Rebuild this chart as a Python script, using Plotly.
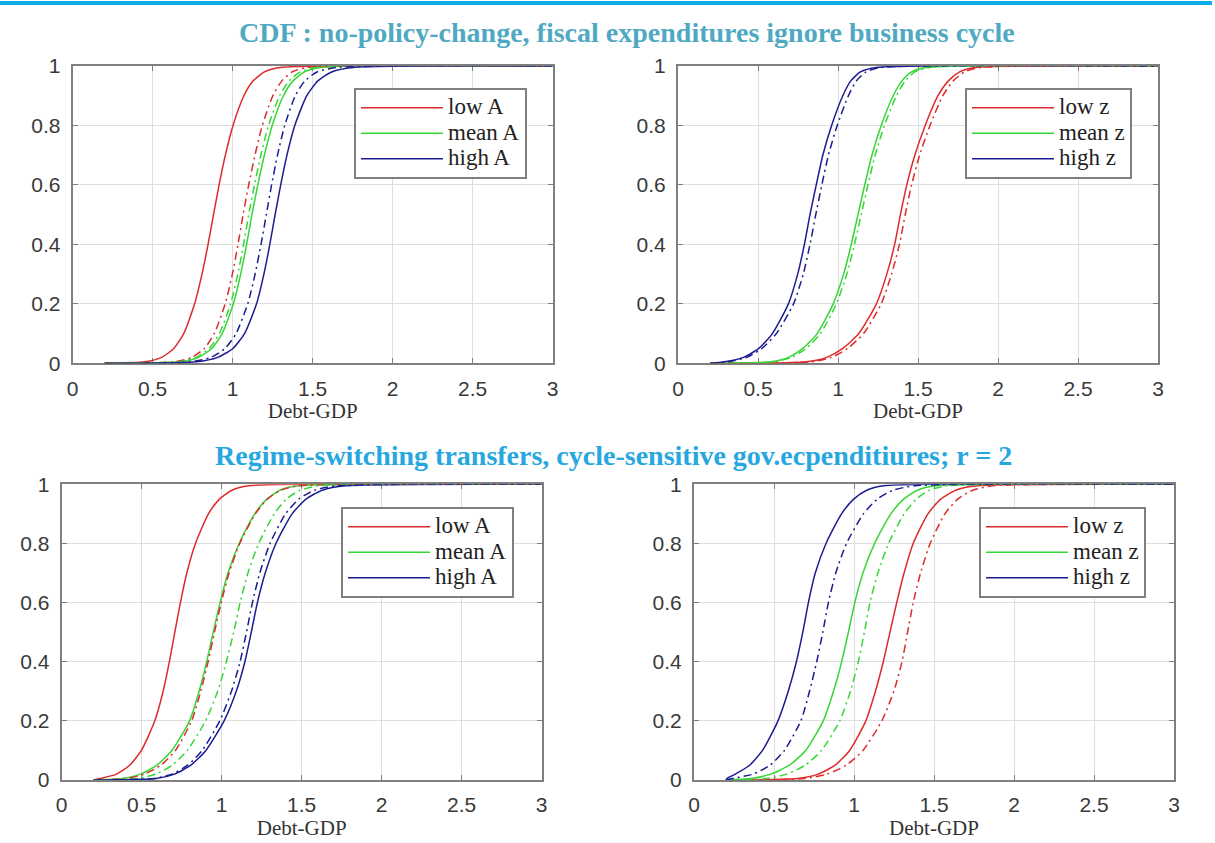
import plotly.graph_objects as go

W, H = 1215, 843

# ---------------- data ----------------
X_START = 0.2
X_END = 3.0
Y_LEVELS = [0.005, 0.02, 0.05, 0.1, 0.2, 0.3, 0.4, 0.5, 0.6, 0.7, 0.8, 0.9, 0.95, 0.98, 0.995]

X_TICKS = [0, 0.5, 1, 1.5, 2, 2.5, 3]
X_TICK_LABELS = ["0", "0.5", "1", "1.5", "2", "2.5", "3"]
Y_TICKS = [0, 0.2, 0.4, 0.6, 0.8, 1]
Y_TICK_LABELS = ["0", "0.2", "0.4", "0.6", "0.8", "1"]

LEGEND_A = ["low A", "mean A", "high A"]
LEGEND_Z = ["low z", "mean z", "high z"]

TITLE_TOP = "CDF : no-policy-change, fiscal expenditures ignore business cycle"
TITLE_BOTTOM = "Regime-switching transfers, cycle-sensitive gov.ecpenditiures; r = 2"
X_TITLE = "Debt-GDP"

# x (Debt-GDP) at which each curve reaches the Y_LEVELS values
# top-left panel (A)
TL_LOW_SOLID = [0.452, 0.556, 0.632, 0.694, 0.762, 0.808, 0.846, 0.880, 0.915, 0.954, 1.002, 1.070, 1.128, 1.198, 1.297]
TL_MEAN_SOLID = [0.672, 0.787, 0.869, 0.934, 1.004, 1.050, 1.087, 1.120, 1.157, 1.198, 1.247, 1.317, 1.377, 1.449, 1.548]
TL_HIGH_SOLID = [0.771, 0.907, 1.001, 1.074, 1.149, 1.195, 1.232, 1.265, 1.300, 1.339, 1.388, 1.463, 1.532, 1.618, 1.754]
TL_LOW_DASH = [0.635, 0.745, 0.823, 0.885, 0.953, 0.998, 1.033, 1.065, 1.100, 1.139, 1.185, 1.251, 1.307, 1.372, 1.461]
TL_MEAN_DASH = [0.661, 0.773, 0.853, 0.917, 0.987, 1.032, 1.068, 1.100, 1.136, 1.176, 1.224, 1.293, 1.352, 1.422, 1.521]
TL_HIGH_DASH = [0.739, 0.864, 0.952, 1.021, 1.094, 1.140, 1.177, 1.210, 1.243, 1.280, 1.325, 1.391, 1.451, 1.527, 1.647]

# top-right panel (z)
TR_LOW_SOLID = [0.80, 0.93, 1.03, 1.13, 1.24, 1.305, 1.354, 1.39, 1.43, 1.48, 1.545, 1.625, 1.69, 1.76, 1.86]
TR_MEAN_SOLID = [0.58, 0.69, 0.78, 0.87, 0.97, 1.035, 1.083, 1.125, 1.167, 1.212, 1.27, 1.345, 1.40, 1.46, 1.55]
TR_HIGH_SOLID = [0.29, 0.41, 0.505, 0.590, 0.690, 0.748, 0.790, 0.825, 0.864, 0.905, 0.960, 1.030, 1.080, 1.140, 1.240]
TR_LOW_DASH = [0.83, 0.96, 1.06, 1.16, 1.27, 1.335, 1.384, 1.42, 1.46, 1.51, 1.575, 1.655, 1.72, 1.79, 1.89]
TR_MEAN_DASH = [0.60, 0.71, 0.80, 0.89, 0.99, 1.055, 1.103, 1.145, 1.187, 1.232, 1.29, 1.365, 1.42, 1.48, 1.57]
TR_HIGH_DASH = [0.31, 0.43, 0.525, 0.615, 0.722, 0.783, 0.825, 0.861, 0.899, 0.940, 0.995, 1.065, 1.115, 1.175, 1.27]

# bottom-left panel (A)
BL_LOW_SOLID = [0.239, 0.343, 0.425, 0.498, 0.582, 0.634, 0.673, 0.707, 0.742, 0.782, 0.836, 0.917, 0.986, 1.064, 1.168]
BL_MEAN_SOLID = [0.378, 0.493, 0.595, 0.689, 0.799, 0.859, 0.906, 0.947, 0.990, 1.039, 1.109, 1.206, 1.282, 1.364, 1.479]
BL_HIGH_SOLID = [0.590, 0.705, 0.807, 0.901, 1.015, 1.091, 1.145, 1.185, 1.223, 1.272, 1.339, 1.440, 1.527, 1.629, 1.775]
BL_LOW_DASH = [0.403, 0.518, 0.620, 0.711, 0.812, 0.869, 0.915, 0.955, 0.997, 1.046, 1.113, 1.210, 1.286, 1.368, 1.483]
BL_MEAN_DASH = [0.474, 0.589, 0.691, 0.785, 0.899, 0.975, 1.029, 1.075, 1.115, 1.164, 1.231, 1.328, 1.404, 1.490, 1.605]
BL_HIGH_DASH = [0.574, 0.689, 0.787, 0.878, 0.988, 1.061, 1.115, 1.155, 1.192, 1.238, 1.302, 1.399, 1.482, 1.580, 1.716]

# bottom-right panel (z)
BR_LOW_SOLID = [0.646, 0.776, 0.882, 0.973, 1.074, 1.134, 1.183, 1.225, 1.267, 1.313, 1.370, 1.462, 1.542, 1.636, 1.772]
BR_MEAN_SOLID = [0.356, 0.481, 0.596, 0.698, 0.808, 0.872, 0.923, 0.965, 1.005, 1.056, 1.129, 1.230, 1.310, 1.396, 1.511]
BR_HIGH_SOLID = [0.205, 0.258, 0.348, 0.428, 0.525, 0.589, 0.640, 0.680, 0.715, 0.758, 0.825, 0.922, 0.998, 1.080, 1.184]
BR_LOW_DASH = [0.691, 0.832, 0.951, 1.056, 1.174, 1.249, 1.300, 1.335, 1.370, 1.416, 1.476, 1.568, 1.648, 1.742, 1.867]
BR_MEAN_DASH = [0.455, 0.580, 0.695, 0.797, 0.911, 0.978, 1.027, 1.065, 1.100, 1.149, 1.216, 1.313, 1.389, 1.471, 1.586]
BR_HIGH_DASH = [0.240, 0.370, 0.475, 0.565, 0.668, 0.722, 0.767, 0.805, 0.840, 0.886, 0.953, 1.059, 1.146, 1.244, 1.380]

# ---------------- styling ----------------
RED, GREEN, BLUE = "#DE2A2A", "#36D636", "#1C1C92"
COLORS = [RED, GREEN, BLUE]
DASHDOT = "8px,4px,2px,4px"
FRAME = "#7F7F7F"
GRID = "#DEDEDE"
TICKFONT = dict(family="Liberation Sans, Arial, sans-serif", size=21, color="#3A3A3A")
SERIF = "Liberation Serif, Times New Roman, serif"


def px_x(p):
    return p / W


def px_y(p):
    return 1 - p / H


panels = [
    # (solid, dash, legend names, x-range px, y-range px, legend box top-left px)
    ([TL_LOW_SOLID, TL_MEAN_SOLID, TL_HIGH_SOLID], [TL_LOW_DASH, TL_MEAN_DASH, TL_HIGH_DASH],
     LEGEND_A, (72.7, 552.7), (66, 363.3), (354, 88)),
    ([TR_LOW_SOLID, TR_MEAN_SOLID, TR_HIGH_SOLID], [TR_LOW_DASH, TR_MEAN_DASH, TR_HIGH_DASH],
     LEGEND_Z, (678, 1158), (66, 363.3), (965, 88)),
    ([BL_LOW_SOLID, BL_MEAN_SOLID, BL_HIGH_SOLID], [BL_LOW_DASH, BL_MEAN_DASH, BL_HIGH_DASH],
     LEGEND_A, (61.7, 541.7), (484.3, 780), (341, 507)),
    ([BR_LOW_SOLID, BR_MEAN_SOLID, BR_HIGH_SOLID], [BR_LOW_DASH, BR_MEAN_DASH, BR_HIGH_DASH],
     LEGEND_Z, (694, 1174), (484.3, 780), (979, 507)),
]

fig = go.Figure()
layout = {}
for i, (solids, dashes, names, xr, yr, lg) in enumerate(panels):
    n = "" if i == 0 else str(i + 1)
    xa, ya = "x" + n, "y" + n
    leg = "legend" + n
    ys = [0] + Y_LEVELS + [1]
    for k in range(3):
        fig.add_trace(go.Scatter(
            x=[X_START] + solids[k] + [X_END], y=ys, mode="lines",
            line=dict(color=COLORS[k], width=1.5, shape="spline", smoothing=0.6),
            name='<span style="font-size:23px">' + names[k] + "</span>",
            xaxis=xa, yaxis=ya, legend=leg, showlegend=True))
    for k in range(3):
        fig.add_trace(go.Scatter(
            x=[X_START] + dashes[k] + [X_END], y=ys, mode="lines",
            line=dict(color=COLORS[k], width=1.5, dash=DASHDOT, shape="spline", smoothing=0.6),
            name=names[k] + " (dash-dot)", xaxis=xa, yaxis=ya, legend=leg, showlegend=False))

    common = dict(showgrid=True, gridcolor=GRID, gridwidth=1, showline=True, linecolor=FRAME,
                  linewidth=2, mirror="ticks", ticks="inside", ticklen=5, tickcolor=FRAME,
                  tickwidth=1, zeroline=False, tickfont=TICKFONT, layer="below traces",
                  fixedrange=True, automargin=False)
    layout["xaxis" + n] = dict(
        common, domain=[px_x(xr[0]), px_x(xr[1])], range=[0, 3], tickmode="array",
        tickvals=X_TICKS, ticktext=X_TICK_LABELS, anchor=ya, ticklabelstandoff=5,
        title=dict(text=X_TITLE, font=dict(family=SERIF, size=21, color="#333333"), standoff=2))
    layout["yaxis" + n] = dict(
        common, domain=[px_y(yr[1]), px_y(yr[0])], range=[0, 1], tickmode="array",
        tickvals=Y_TICKS, ticktext=Y_TICK_LABELS, anchor=xa, ticklabelstandoff=6)
    layout[leg] = dict(
        x=px_x(lg[0]), y=px_y(lg[1]), xanchor="left", yanchor="top",
        bgcolor="white", bordercolor=FRAME, borderwidth=2, itemwidth=82,
        font=dict(family=SERIF, size=17.3, color="#222222"), tracegroupgap=0,
        traceorder="normal")

fig.update_layout(
    width=W, height=H, margin=dict(l=0, r=0, t=0, b=0, autoexpand=False),
    paper_bgcolor="white", plot_bgcolor="white", **layout)

fig.add_shape(type="rect", xref="paper", yref="paper", x0=0, x1=px_x(1212),
              y0=px_y(5), y1=px_y(1), fillcolor="#0AAFE8", line=dict(width=0))

fig.add_annotation(text="<b>" + TITLE_TOP + "</b>", xref="paper", yref="paper",
                   x=px_x(627), y=px_y(33), xanchor="center", yanchor="middle", showarrow=False,
                   font=dict(family=SERIF, size=28, color="#4FA9C2"))
fig.add_annotation(text="<b>" + TITLE_BOTTOM + "</b>", xref="paper", yref="paper",
                   x=px_x(613), y=px_y(455), xanchor="center", yanchor="middle", showarrow=False,
                   font=dict(family=SERIF, size=28, color="#27A7DF"))

fig.write_html("out.html")
